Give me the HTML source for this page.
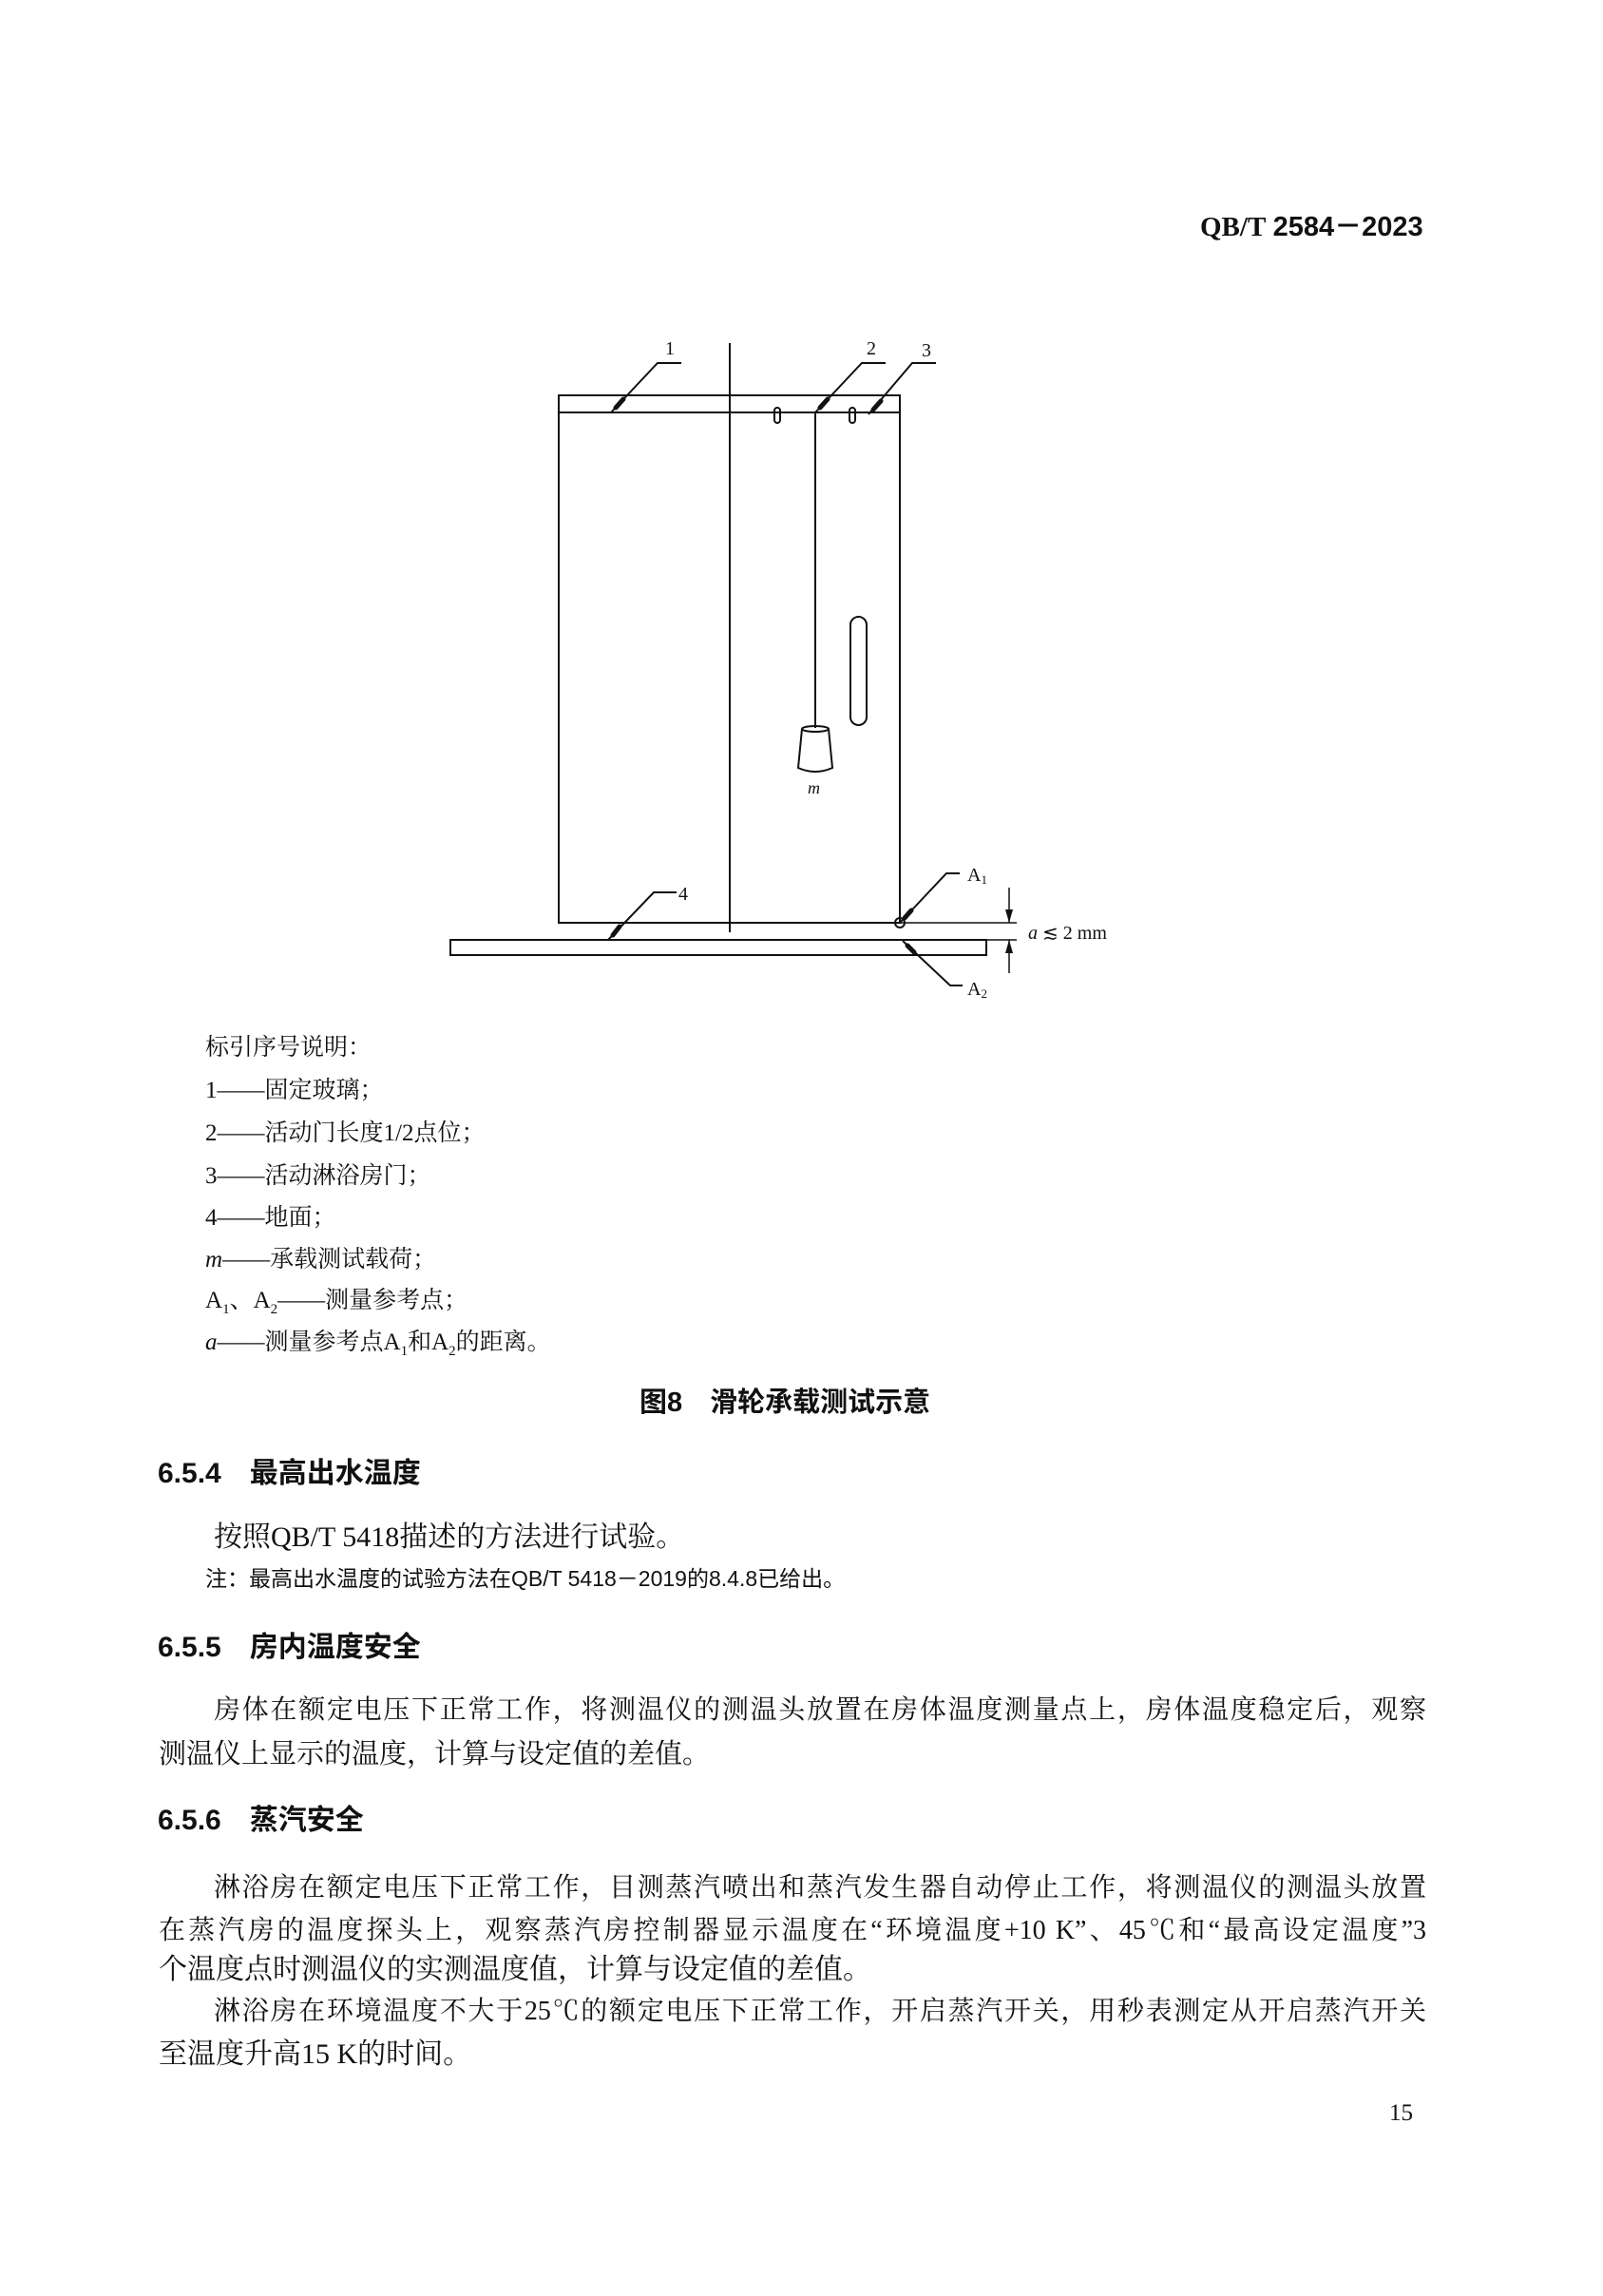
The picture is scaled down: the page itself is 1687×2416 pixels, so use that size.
<!DOCTYPE html>
<html><head><meta charset="utf-8"><style>
html,body{margin:0;padding:0;background:#fff;}
body{width:1687px;height:2416px;position:relative;overflow:hidden;color:#111;}
.t{position:absolute;white-space:nowrap;line-height:1;}
.serif{font-family:"Liberation Serif","Noto Serif CJK SC",serif;}
.sans{font-family:"Liberation Sans","Noto Sans CJK SC",sans-serif;}
.leg{font-family:"Liberation Serif","Noto Serif CJK SC",serif;font-size:25px;left:216px;}
.body{font-family:"Liberation Serif","Noto Serif CJK SC",serif;font-size:28px;text-align-last:justify;text-align:justify;white-space:normal;}
.h{font-family:"Liberation Sans","Noto Sans CJK SC",sans-serif;font-size:30px;font-weight:bold;left:166px;}
</style></head><body>

<div class="t" style="left:1263px;top:225px;font-size:29px;font-weight:bold;"><span class="serif">QB/T</span> <span class="sans">2584－2023</span></div>

<svg width="1687" height="2416" style="position:absolute;left:0;top:0" xmlns="http://www.w3.org/2000/svg">
<g fill="none" stroke="#111" stroke-width="2">
<rect x="588" y="416" width="359" height="555"/>
<line x1="588" y1="434" x2="947" y2="434"/>
<line x1="768" y1="361" x2="768" y2="981"/>
<rect x="815" y="429" width="6" height="16" rx="3"/>
<rect x="894" y="429" width="6" height="16" rx="3"/>
<line x1="858" y1="434" x2="858" y2="766"/>
<ellipse cx="858" cy="767" rx="14" ry="3"/>
<path d="M844,767 L840,808 Q858,816 876,808 L872,767"/>
<rect x="895" y="649" width="17" height="114" rx="8.5"/>
<path d="M643,434 L692,382 L717,382"/>
<path d="M858,434 L907,382 L932,382"/>
<path d="M914,436 L960,382 L985,382"/>
<path d="M640,989 L688,939 L712,939"/>
<circle cx="947" cy="971" r="5"/>
<path d="M947,971 L996,919 L1010,919"/>
<path d="M950,990 L1000,1037 L1013,1037"/>
<rect x="474" y="989" width="564" height="16"/>
<line x1="947" y1="971" x2="1070" y2="971" stroke-width="1.5"/>
<line x1="1038" y1="989" x2="1070" y2="989" stroke-width="1.5"/>
<line x1="1062" y1="934" x2="1062" y2="971" stroke-width="1.5"/>
<line x1="1062" y1="989" x2="1062" y2="1024" stroke-width="1.5"/>
</g>
<g stroke="#111" stroke-width="5" stroke-linecap="round">
<line x1="648" y1="429" x2="656" y2="420"/>
<line x1="863" y1="429" x2="871" y2="420"/>
<line x1="919" y1="431" x2="927" y2="422"/>
<line x1="645" y1="984" x2="652" y2="975"/>
<line x1="952" y1="966" x2="959" y2="958"/>
<line x1="955" y1="995" x2="962" y2="1002"/>
</g>
<g fill="#111">
<polygon points="1062,971 1058,957 1066,957"/>
<polygon points="1062,989 1058,1003 1066,1003"/>
</g>
<g font-family="Liberation Serif, serif" fill="#111" font-size="20">
<text x="700" y="373">1</text>
<text x="912" y="373">2</text>
<text x="970" y="375">3</text>
<text x="714" y="947">4</text>
<text x="1018" y="927">A<tspan font-size="13" dy="3">1</tspan></text>
<text x="1018" y="1047">A<tspan font-size="13" dy="3">2</tspan></text>
<text x="850" y="835" font-style="italic" font-size="18">m</text>
<text x="1082" y="988"><tspan font-style="italic">a</tspan> ≲ 2 mm</text>
</g>
</svg>

<div class="t leg" style="top:1090px;">标引序号说明：</div>
<div class="t leg" style="top:1135px;">1——固定玻璃；</div>
<div class="t leg" style="top:1180px;">2——活动门长度1/2点位；</div>
<div class="t leg" style="top:1225px;">3——活动淋浴房门；</div>
<div class="t leg" style="top:1269px;">4——地面；</div>
<div class="t leg" style="top:1313px;"><i>m</i>——承载测试载荷；</div>
<div class="t leg" style="top:1356px;">A<sub style="font-size:15px">1</sub>、A<sub style="font-size:15px">2</sub>——测量参考点；</div>
<div class="t leg" style="top:1400px;"><i>a</i>——测量参考点A<sub style="font-size:15px">1</sub>和A<sub style="font-size:15px">2</sub>的距离。</div>

<div class="t sans" style="left:673px;top:1462px;font-size:29px;font-weight:bold;">图8　滑轮承载测试示意</div>

<div class="t h" style="top:1536px;">6.5.4　最高出水温度</div>
<div class="t serif" style="left:225px;top:1603px;font-size:30px;">按照QB/T 5418描述的方法进行试验。</div>
<div class="t sans" style="left:216px;top:1650px;font-size:23px;">注：最高出水温度的试验方法在QB/T 5418－2019的8.4.8已给出。</div>

<div class="t h" style="top:1719px;">6.5.5　房内温度安全</div>
<div class="t body" style="left:225px;top:1786px;width:1276px;">房体在额定电压下正常工作，将测温仪的测温头放置在房体温度测量点上，房体温度稳定后，观察</div>
<div class="t serif" style="left:167px;top:1832px;font-size:29px;">测温仪上显示的温度，计算与设定值的差值。</div>

<div class="t h" style="top:1901px;">6.5.6　蒸汽安全</div>
<div class="t body" style="left:225px;top:1973px;width:1276px;">淋浴房在额定电压下正常工作，目测蒸汽喷出和蒸汽发生器自动停止工作，将测温仪的测温头放置</div>
<div class="t body" style="left:167px;top:2018px;width:1334px;">在蒸汽房的温度探头上，观察蒸汽房控制器显示温度在“环境温度+10 K”、45℃和“最高设定温度”3</div>
<div class="t serif" style="left:167px;top:2058px;font-size:30px;">个温度点时测温仪的实测温度值，计算与设定值的差值。</div>
<div class="t body" style="left:225px;top:2103px;width:1276px;">淋浴房在环境温度不大于25℃的额定电压下正常工作，开启蒸汽开关，用秒表测定从开启蒸汽开关</div>
<div class="t serif" style="left:167px;top:2147px;font-size:30px;">至温度升高15 K的时间。</div>

<div class="t serif" style="left:1462px;top:2211px;font-size:25px;">15</div>
</body></html>
